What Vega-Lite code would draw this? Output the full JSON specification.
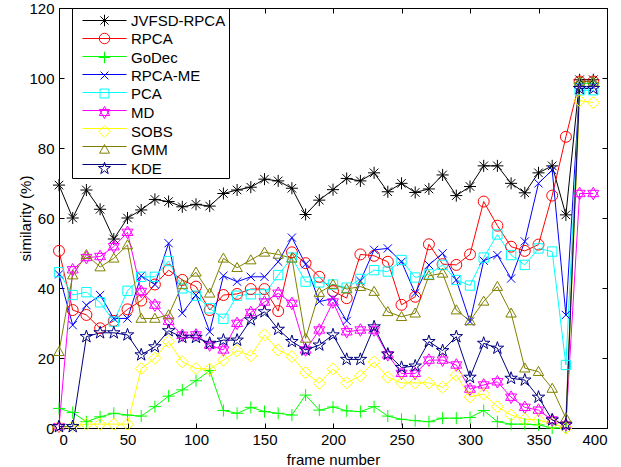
{
  "$schema": "https://vega.github.io/schema/vega-lite/v6.json",
  "width": 548,
  "height": 420,
  "autosize": {"type": "none"},
  "padding": {"left": 59, "top": 8, "right": 14, "bottom": 39},
  "background": "white",
  "config": {
    "view": {"stroke": "black", "strokeWidth": 1},
    "font": "Liberation Sans",
    "axis": {"grid": false, "domainColor": "black", "tickColor": "black", "labelColor": "black", "titleColor": "black", "labelFont": "Liberation Sans", "titleFont": "Liberation Sans", "labelFontSize": 15, "titleFontSize": 15, "titleFontWeight": "normal", "tickSize": -5, "domainWidth": 1, "tickWidth": 1},
    "legend": {"orient": "none", "legendX": 13, "legendY": 0, "title": null, "padding": 5, "symbolSize": 110, "symbolStrokeWidth": 1, "symbolOffset": 20, "labelOffset": 19, "labelFontSize": 15, "labelFont": "Liberation Sans", "labelColor": "black", "rowPadding": 2, "cornerRadius": 0}
  },
  "data": {"values": [
    {"frame": 0, "JVFSD-RPCA": 69.4, "RPCA": 50.6, "GoDec": 5.6, "RPCA-ME": 43.9, "PCA": 44.5, "MD": 0.4, "SOBS": 0.4, "GMM": 21.8, "KDE": 0.4},
    {"frame": 10, "JVFSD-RPCA": 60, "RPCA": 33.7, "GoDec": 4.4, "RPCA-ME": 29.4, "PCA": 38, "MD": 45.2, "SOBS": 0.5, "GMM": 43.7, "KDE": 0.4},
    {"frame": 20, "JVFSD-RPCA": 68, "RPCA": 32.3, "GoDec": 1.8, "RPCA-ME": 35.1, "PCA": 38.8, "MD": 48.7, "SOBS": 1.1, "GMM": 49.5, "KDE": 26.1},
    {"frame": 30, "JVFSD-RPCA": 62.5, "RPCA": 28.5, "GoDec": 3.2, "RPCA-ME": 38, "PCA": 35.9, "MD": 49, "SOBS": 1.1, "GMM": 46, "KDE": 27.2},
    {"frame": 40, "JVFSD-RPCA": 54, "RPCA": 30.6, "GoDec": 4.2, "RPCA-ME": 31.3, "PCA": 30.4, "MD": 51.8, "SOBS": 1.1, "GMM": 48.5, "KDE": 27.2},
    {"frame": 50, "JVFSD-RPCA": 60, "RPCA": 33.9, "GoDec": 3.7, "RPCA-ME": 31.3, "PCA": 39.2, "MD": 55.9, "SOBS": 1.1, "GMM": 52.3, "KDE": 26.6},
    {"frame": 60, "JVFSD-RPCA": 62.3, "RPCA": 36.4, "GoDec": 3.4, "RPCA-ME": 43.5, "PCA": 43.2, "MD": 39, "SOBS": 17, "GMM": 31.3, "KDE": 20.9},
    {"frame": 70, "JVFSD-RPCA": 65.3, "RPCA": 41, "GoDec": 6.1, "RPCA-ME": 41, "PCA": 43.2, "MD": 35.1, "SOBS": 19.9, "GMM": 31.3, "KDE": 23.2},
    {"frame": 80, "JVFSD-RPCA": 64.7, "RPCA": 45.1, "GoDec": 9.1, "RPCA-ME": 52.8, "PCA": 47.7, "MD": 30.5, "SOBS": 24.7, "GMM": 32.3, "KDE": 27.8},
    {"frame": 90, "JVFSD-RPCA": 63.2, "RPCA": 42.3, "GoDec": 10.9, "RPCA-ME": 32.8, "PCA": 39.9, "MD": 26.5, "SOBS": 18.9, "GMM": 40.9, "KDE": 25.9},
    {"frame": 100, "JVFSD-RPCA": 63.9, "RPCA": 40.4, "GoDec": 13.5, "RPCA-ME": 38, "PCA": 37.8, "MD": 26.6, "SOBS": 17, "GMM": 44.5, "KDE": 25.9},
    {"frame": 110, "JVFSD-RPCA": 63.4, "RPCA": 33.7, "GoDec": 16.4, "RPCA-ME": 27.5, "PCA": 34.2, "MD": 23.7, "SOBS": 16.8, "GMM": 38.5, "KDE": 24.2},
    {"frame": 120, "JVFSD-RPCA": 67, "RPCA": 38, "GoDec": 5, "RPCA-ME": 43.5, "PCA": 31.2, "MD": 22.3, "SOBS": 19.4, "GMM": 48.5, "KDE": 25.1},
    {"frame": 130, "JVFSD-RPCA": 68, "RPCA": 38.3, "GoDec": 4.2, "RPCA-ME": 41.8, "PCA": 37.8, "MD": 29.9, "SOBS": 22.1, "GMM": 45.8, "KDE": 25.1},
    {"frame": 140, "JVFSD-RPCA": 68.8, "RPCA": 39.7, "GoDec": 5.9, "RPCA-ME": 43.2, "PCA": 38.2, "MD": 33, "SOBS": 20.6, "GMM": 48, "KDE": 30.9},
    {"frame": 150, "JVFSD-RPCA": 71.1, "RPCA": 39.7, "GoDec": 4.7, "RPCA-ME": 43.2, "PCA": 38.2, "MD": 36, "SOBS": 26.6, "GMM": 50.2, "KDE": 33.2},
    {"frame": 160, "JVFSD-RPCA": 70.6, "RPCA": 33.4, "GoDec": 4.2, "RPCA-ME": 47.5, "PCA": 43.7, "MD": 38.5, "SOBS": 22.3, "GMM": 49.6, "KDE": 28.2},
    {"frame": 170, "JVFSD-RPCA": 68.5, "RPCA": 50.2, "GoDec": 3.7, "RPCA-ME": 54.4, "PCA": 48.7, "MD": 35.6, "SOBS": 20.4, "GMM": 48.5, "KDE": 24.7},
    {"frame": 180, "JVFSD-RPCA": 61, "RPCA": 47.1, "GoDec": 9.4, "RPCA-ME": 46.8, "PCA": 41.8, "MD": 22.3, "SOBS": 15.8, "GMM": 25.6, "KDE": 22.3},
    {"frame": 190, "JVFSD-RPCA": 65.1, "RPCA": 43.2, "GoDec": 5.1, "RPCA-ME": 36.1, "PCA": 41.6, "MD": 28, "SOBS": 12.8, "GMM": 38.7, "KDE": 23.7},
    {"frame": 200, "JVFSD-RPCA": 68.1, "RPCA": 39.1, "GoDec": 6, "RPCA-ME": 37, "PCA": 41, "MD": 36, "SOBS": 16.9, "GMM": 41, "KDE": 26.6},
    {"frame": 210, "JVFSD-RPCA": 71.3, "RPCA": 37.1, "GoDec": 4.9, "RPCA-ME": 30.6, "PCA": 40.1, "MD": 27.5, "SOBS": 12.9, "GMM": 39.7, "KDE": 19.6},
    {"frame": 220, "JVFSD-RPCA": 70.6, "RPCA": 49.6, "GoDec": 4.7, "RPCA-ME": 42, "PCA": 42.6, "MD": 28, "SOBS": 14.9, "GMM": 40.4, "KDE": 19.6},
    {"frame": 230, "JVFSD-RPCA": 72.9, "RPCA": 49.2, "GoDec": 6.1, "RPCA-ME": 50.9, "PCA": 45.1, "MD": 28, "SOBS": 18.9, "GMM": 39, "KDE": 28.9},
    {"frame": 240, "JVFSD-RPCA": 67.5, "RPCA": 47.5, "GoDec": 3.4, "RPCA-ME": 51.3, "PCA": 44.7, "MD": 20.9, "SOBS": 14.5, "GMM": 33.2, "KDE": 21.1},
    {"frame": 250, "JVFSD-RPCA": 69.9, "RPCA": 35.2, "GoDec": 2.5, "RPCA-ME": 47.5, "PCA": 48, "MD": 15.6, "SOBS": 12.9, "GMM": 31.8, "KDE": 17.3},
    {"frame": 260, "JVFSD-RPCA": 67.3, "RPCA": 37.5, "GoDec": 2.1, "RPCA-ME": 38.5, "PCA": 43, "MD": 15.6, "SOBS": 12.9, "GMM": 32.8, "KDE": 17.7},
    {"frame": 270, "JVFSD-RPCA": 68.3, "RPCA": 52.5, "GoDec": 1.8, "RPCA-ME": 46.6, "PCA": 43.9, "MD": 19.4, "SOBS": 12.9, "GMM": 43.5, "KDE": 24.7},
    {"frame": 280, "JVFSD-RPCA": 72.3, "RPCA": 46.8, "GoDec": 2.8, "RPCA-ME": 49.9, "PCA": 46.6, "MD": 19.4, "SOBS": 11.6, "GMM": 44.2, "KDE": 22.1},
    {"frame": 290, "JVFSD-RPCA": 66.4, "RPCA": 46.6, "GoDec": 2.8, "RPCA-ME": 42.3, "PCA": 42.3, "MD": 18, "SOBS": 15.1, "GMM": 33.7, "KDE": 26.1},
    {"frame": 300, "JVFSD-RPCA": 69, "RPCA": 49.6, "GoDec": 3, "RPCA-ME": 30.4, "PCA": 40.7, "MD": 11.1, "SOBS": 8.9, "GMM": 30.6, "KDE": 14.5},
    {"frame": 310, "JVFSD-RPCA": 74.9, "RPCA": 64.7, "GoDec": 5, "RPCA-ME": 47.8, "PCA": 48.7, "MD": 12.3, "SOBS": 9.7, "GMM": 36.2, "KDE": 24.2},
    {"frame": 320, "JVFSD-RPCA": 74.9, "RPCA": 57.8, "GoDec": 1.8, "RPCA-ME": 49.4, "PCA": 55.3, "MD": 13.2, "SOBS": 6.1, "GMM": 40.4, "KDE": 22.8},
    {"frame": 330, "JVFSD-RPCA": 69.9, "RPCA": 51.8, "GoDec": 1.1, "RPCA-ME": 42.7, "PCA": 49.4, "MD": 8.8, "SOBS": 3.7, "GMM": 32.8, "KDE": 14.2},
    {"frame": 340, "JVFSD-RPCA": 67.2, "RPCA": 50.6, "GoDec": 1.1, "RPCA-ME": 53.3, "PCA": 46.6, "MD": 5.9, "SOBS": 2.5, "GMM": 17.1, "KDE": 13.7},
    {"frame": 350, "JVFSD-RPCA": 72.9, "RPCA": 52.4, "GoDec": 0.9, "RPCA-ME": 69.9, "PCA": 51.3, "MD": 5.1, "SOBS": 2.3, "GMM": 16.1, "KDE": 8.8},
    {"frame": 360, "JVFSD-RPCA": 74.9, "RPCA": 66.4, "GoDec": 0, "RPCA-ME": 73.7, "PCA": 50.4, "MD": 2.3, "SOBS": 1.3, "GMM": 11.3, "KDE": 2.3},
    {"frame": 370, "JVFSD-RPCA": 60.9, "RPCA": 83.2, "GoDec": 0, "RPCA-ME": 32.3, "PCA": 18, "MD": 0.9, "SOBS": 0, "GMM": 2.8, "KDE": 0.9},
    {"frame": 380, "JVFSD-RPCA": 99.5, "RPCA": 99, "GoDec": 98.5, "RPCA-ME": 97.5, "PCA": 96.5, "MD": 67, "SOBS": 93.5, "GMM": 99, "KDE": 97},
    {"frame": 390, "JVFSD-RPCA": 99.5, "RPCA": 99, "GoDec": 98.5, "RPCA-ME": 97.5, "PCA": 96.5, "MD": 67, "SOBS": 93, "GMM": 99, "KDE": 97}
  ]},
  "layer": [
    {
      "transform": [{"fold": ["JVFSD-RPCA", "RPCA", "GoDec", "RPCA-ME", "PCA", "MD", "SOBS", "GMM", "KDE"], "as": ["method", "value"]}],
      "mark": {"type": "line", "strokeWidth": 1},
      "encoding": {
        "x": {"field": "frame", "type": "quantitative", "scale": {"domain": [0, 400], "nice": false}, "axis": {"orient": "bottom", "values": [0, 50, 100, 150, 200, 250, 300, 350, 400], "title": "frame number", "labelPadding": 9, "titleX": 274, "titleY": 31, "titleBaseline": "middle"}},
        "y": {"field": "value", "type": "quantitative", "scale": {"domain": [0, 120], "nice": false}, "axis": {"orient": "left", "values": [0, 20, 40, 60, 80, 100, 120], "title": "similarity (%)", "labelPadding": 10, "titleX": -34, "titleY": 210, "titleBaseline": "middle", "titleAngle": -90}},
        "color": {"field": "method", "type": "nominal", "title": null,
          "legend": {"symbolType": "M-4.2,0L4.2,0", "fillColor": "white", "strokeColor": "black", "labelExpr": "' '", "labelOffset": 112},
          "scale": {"domain": ["JVFSD-RPCA", "RPCA", "GoDec", "RPCA-ME", "PCA", "MD", "SOBS", "GMM", "KDE"], "range": ["#000000", "#ff0000", "#00ff00", "#0000ff", "#00ffff", "#ff00ff", "#ffff00", "#808000", "#000080"]}}
      }
    },
    {
      "transform": [{"fold": ["JVFSD-RPCA", "RPCA", "GoDec", "RPCA-ME", "PCA", "MD", "SOBS", "GMM", "KDE"], "as": ["series", "value"]}],
      "mark": {"type": "point", "filled": false, "size": 120, "strokeWidth": 1, "opacity": 1},
      "encoding": {
        "x": {"field": "frame", "type": "quantitative", "axis": {"orient": "top", "values": [0, 50, 100, 150, 200, 250, 300, 350, 400], "labels": false, "title": null}},
        "y": {"field": "value", "type": "quantitative", "axis": {"orient": "right", "values": [0, 20, 40, 60, 80, 100, 120], "labels": false, "title": null}},
        "color": {"field": "series", "type": "nominal", "title": null,
          "legend": {"fillColor": "transparent", "strokeColor": "transparent"},
          "scale": {"domain": ["JVFSD-RPCA", "RPCA", "GoDec", "RPCA-ME", "PCA", "MD", "SOBS", "GMM", "KDE"], "range": ["#000000", "#ff0000", "#00ff00", "#0000ff", "#00ffff", "#ff00ff", "#ffff00", "#808000", "#000080"]}},
        "shape": {"field": "series", "type": "nominal", "title": null,
          "legend": {"fillColor": "transparent", "strokeColor": "transparent"},
          "scale": {"domain": ["JVFSD-RPCA", "RPCA", "GoDec", "RPCA-ME", "PCA", "MD", "SOBS", "GMM", "KDE"], "range": [
            "M-1.1,0L1.1,0M0,-1.1L0,1.1M-0.78,-0.78L0.78,0.78M-0.78,0.78L0.78,-0.78",
            "circle",
            "M-1.1,0L1.1,0M0,-1.1L0,1.1",
            "M-0.75,-0.75L0.75,0.75M-0.75,0.75L0.75,-0.75",
            "M-0.85,-0.85L0.85,-0.85L0.85,0.85L-0.85,0.85Z",
            "M0,-1.15L1,0.58L-1,0.58ZM0,1.15L1,-0.58L-1,-0.58Z",
            "M0,-1.1L1.1,0L0,1.1L-1.1,0Z",
            "M0,-0.95L0.95,0.7L-0.95,0.7Z",
            "M0,-1.2L0.27,-0.37L1.14,-0.37L0.44,0.14L0.71,0.97L0,0.46L-0.71,0.97L-0.44,0.14L-1.14,-0.37L-0.27,-0.37Z"
          ]}}
      }
    }
  ],
  "resolve": {"axis": {"x": "independent", "y": "independent"}, "scale": {"color": "independent", "shape": "independent"}, "legend": {"color": "independent", "shape": "independent"}}
}
